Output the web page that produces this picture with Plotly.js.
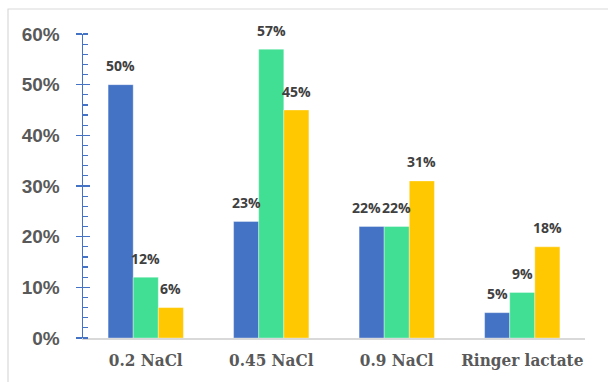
<!DOCTYPE html>
<html>
<head>
<meta charset="utf-8">
<script src="https://cdn.plot.ly/plotly-3.0.1.min.js"></script>
<style>
  html, body { margin: 0; padding: 0; background: #ffffff; }
  #chart { width: 608px; height: 382px; }
</style>
</head>
<body>
<div id="chart"></div>
<script>
// Solution types on the category axis
const categories = ['0.2 NaCl', '0.45 NaCl', '0.9 NaCl', 'Ringer lactate'];

// Share per group (fractions, shown as percentages)
const seriesA = [0.50, 0.23, 0.22, 0.05];
const seriesB = [0.12, 0.57, 0.22, 0.09];
const seriesC = [0.06, 0.45, 0.31, 0.18];

const seriesNames = ['Group A', 'Group B', 'Group C'];
const seriesColors = ['#4472C4', '#41DF93', '#FFC800'];
const allSeries = [seriesA, seriesB, seriesC];

// Plot area geometry
const W = 608, H = 382;
const M = { l: 83, r: 23, t: 34, b: 44 };
const plotW = W - M.l - M.r;
const plotH = H - M.t - M.b;
const bargap = 0.4;
const barPx = plotW / categories.length * (1 - bargap) / allSeries.length;

const traces = allSeries.map((vals, i) => ({
  type: 'bar',
  name: seriesNames[i],
  x: categories,
  y: vals,
  marker: { color: seriesColors[i], line: { color: 'rgba(255,255,255,0.6)', width: 0.6 } },
  hoverinfo: 'skip'
}));

// Invisible companion trace so the overlaying axis draws its inner major ticks
traces.push({
  type: 'scatter', x: [categories[0]], y: [0], yaxis: 'y2',
  mode: 'markers', marker: { opacity: 0 }, showlegend: false, hoverinfo: 'skip'
});

// Value labels floating above each bar
const annotations = [];
allSeries.forEach((vals, i) => {
  vals.forEach((v, j) => {
    // keep neighbouring equal labels from touching
    let nudge = 0;
    if (i === 0 && vals[j] === allSeries[1][j]) nudge = -5;
    annotations.push({
      x: categories[j], y: v, xref: 'x', yref: 'y',
      text: Math.round(v * 100) + '%',
      showarrow: false,
      xshift: (i - 1) * barPx + nudge,
      yshift: 19,
      yanchor: 'middle',
      font: { family: 'Open Sans', size: 14, color: '#404040', weight: 'bold' }
    });
  });
});

// Light frame around the whole chart
const px2x = p => (p - M.l) / plotW;
const px2y = p => (H - M.b - p) / plotH;
const shapes = [{
  type: 'rect', xref: 'paper', yref: 'paper',
  x0: px2x(8), x1: px2x(W + 6), y0: px2y(H + 6), y1: px2y(9),
  line: { color: '#d9d9d9', width: 1.2 }, fillcolor: 'rgba(0,0,0,0)', layer: 'below'
}];

const layout = {
  width: W, height: H,
  margin: M,
  paper_bgcolor: '#ffffff',
  plot_bgcolor: '#ffffff',
  showlegend: false,
  barmode: 'group',
  bargap: bargap,
  bargroupgap: 0,
  xaxis: {
    type: 'category',
    showgrid: false,
    showline: true,
    linecolor: '#d9d9d9',
    linewidth: 1.5,
    ticks: '',
    ticklabelstandoff: 6,
    tickfont: { family: 'DejaVu Serif Condensed', size: 17, color: '#595959', weight: 'bold' },
    fixedrange: true
  },
  yaxis: {
    range: [0, 0.6],
    dtick: 0.1,
    tickformat: '.0%',
    showgrid: false,
    zeroline: false,
    showline: true,
    linecolor: '#4472C4',
    linewidth: 1.5,
    ticks: 'outside',
    ticklen: 6,
    tickwidth: 1.5,
    tickcolor: '#4472C4',
    ticklabelstandoff: 12,
    minor: { dtick: 0.02, ticks: 'inside', ticklen: 5, tickwidth: 1.2, tickcolor: '#4472C4', showgrid: false },
    tickfont: { family: 'Liberation Sans', size: 19, color: '#595959', weight: 'bold' },
    fixedrange: true
  },
  yaxis2: {
    overlaying: 'y',
    side: 'left',
    range: [0, 0.6],
    dtick: 0.1,
    showgrid: false,
    zeroline: false,
    showline: false,
    ticks: 'inside',
    ticklen: 7,
    tickwidth: 1.5,
    tickcolor: '#4472C4',
    showticklabels: false,
    fixedrange: true
  },
  annotations: annotations,
  shapes: shapes
};

Plotly.newPlot('chart', traces, layout, { displayModeBar: false, staticPlot: true });
</script>
</body>
</html>
